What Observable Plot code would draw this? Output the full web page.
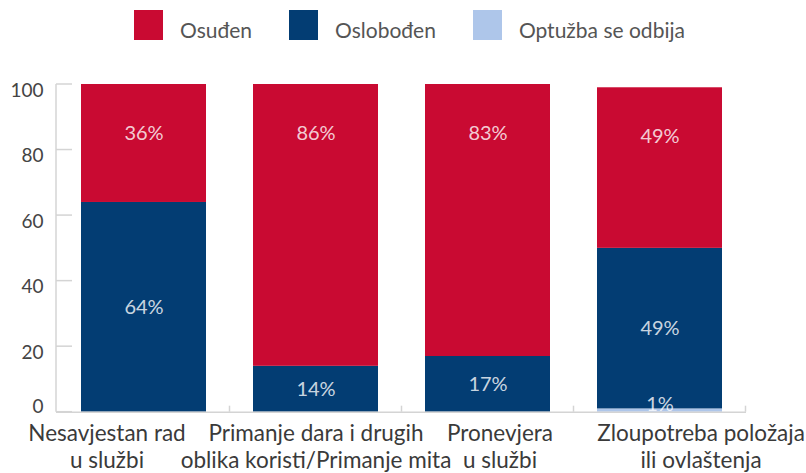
<!DOCTYPE html>
<html>
<head>
<meta charset="utf-8">
<script src="https://cdn.jsdelivr.net/npm/d3@7"></script>
<script src="https://cdn.jsdelivr.net/npm/@observablehq/plot@0.6"></script>
<style>
  body { margin: 0; background: #fff; font-family: Lato, sans-serif; }
  #legend { height: 62px; width: 806px; display: flex; align-items: flex-start; padding-left: 134px; box-sizing: border-box; }
  .item { display: flex; align-items: flex-start; margin-top: 10px; margin-right: 37px; }
  .sw { width: 29px; height: 30px; }
  .lab { font-size: 21px; color: #555; margin-left: 17px; line-height: 30px; height: 30px; margin-top: 5px; white-space: nowrap; }
  #chart svg { display: block; }
</style>
</head>
<body>
<div id="legend"></div>
<div id="chart"></div>
<script>
// ---- data ----
const categories = [
  "Nesavjestan rad\nu službi",
  "Primanje dara i drugih\noblika koristi/Primanje mita",
  "Pronevjera\nu službi",
  "Zloupotreba položaja\nili ovlaštenja"
];
const seriesNames = ["Osuđen", "Oslobođen", "Optužba se odbija"]; // legend order
const stackOrder = ["Optužba se odbija", "Oslobođen", "Osuđen"]; // bottom to top
const osudjen = [36, 86, 83, 49];
const oslobodjen = [64, 14, 17, 49];
const odbija = [0, 0, 0, 1];
const seriesColors = ["#c90a32", "#033d73", "#aec6ea"];
const yTicks = [0, 20, 40, 60, 80, 100];

// layout: horizontal shift (px) of each category label, as in the reference
const labelShift = [-37, 0, 12, 41];

// ---- build table ----
const valuesBySeries = { "Osuđen": osudjen, "Oslobođen": oslobodjen, "Optužba se odbija": odbija };
const rows = [];
categories.forEach((c, i) => {
  let base = 0;
  stackOrder.forEach(s => {
    const v = valuesBySeries[s][i];
    if (v > 0) rows.push({ category: c, series: s, value: v, y1: base, y2: base + v });
    base += v;
  });
});
const labelRows = rows.map(r => ({
  ...r,
  ly: r.series === "Osuđen" ? r.y2 - 15 : r.series === "Oslobođen" ? (r.y1 + r.y2) / 2 : r.y1
}));

// ---- legend ----
const legend = d3.select("#legend");
seriesNames.forEach((s, i) => {
  const it = legend.append("div").attr("class", "item");
  it.append("div").attr("class", "sw").style("background", seriesColors[i]);
  it.append("div").attr("class", "lab").text(s);
});

// ---- chart ----
const catLabelMarks = categories.map((c, i) =>
  Plot.text([c], {
    x: d => d, y: () => 0, text: d => d, dx: labelShift[i], dy: 9,
    lineAnchor: "top", lineHeight: 1.22, fontSize: 22.5, fill: "#3a3a3a"
  })
);

const plot = Plot.plot({
  width: 806,
  height: 411,
  marginTop: 22,
  marginBottom: 61.3,
  marginLeft: 56,
  marginRight: 60,
  style: { fontFamily: "Lato, sans-serif", background: "#fff", overflow: "visible" },
  x: { domain: categories, paddingInner: 0.275, paddingOuter: 0.1375, label: null, axis: null },
  y: { domain: [0, 100], label: null },
  color: { domain: seriesNames, range: seriesColors },
  marks: [
    Plot.barY(rows, { x: "category", y1: "y1", y2: "y2", fill: "series" }),
    Plot.ruleY([0], { stroke: "#d4d4d4", strokeWidth: 1.5 }),
    Plot.text(labelRows.filter(d => d.series !== "Optužba se odbija"), {
      x: "category", y: "ly", text: d => d.value + "%",
      fill: "white", fillOpacity: 0.8, fontSize: 20
    }),
    Plot.text(labelRows.filter(d => d.series === "Optužba se odbija"), {
      x: "category", y: "ly", text: d => d.value + "%", dy: -8,
      fill: "white", fillOpacity: 0.8, fontSize: 20
    }),
    Plot.axisY({ ticks: yTicks.filter(t => t > 0), tickSize: 0, tickPadding: 13, dy: 6, fontSize: 19, fill: "#444", label: null }),
    Plot.axisY({ ticks: yTicks.filter(t => t === 0), tickSize: 0, tickPadding: 13, dy: -5, fontSize: 19, fill: "#444", label: null }),
    ...catLabelMarks
  ]
});
document.getElementById("chart").appendChild(plot);

// ---- axis line, inward y ticks and band-boundary ticks, positioned from Plot's scales ----
const ys = plot.scale("y");
const fy = ys.apply ? (v => ys.apply(v)) : d3.scaleLinear(ys.domain, ys.range);
const xs = plot.scale("x");
const fx = xs.apply ? (v => xs.apply(v)) : d3.scaleBand(xs.domain, xs.range).paddingInner(0.275).paddingOuter(0.1375);
const bw = xs.bandwidth;
const step = fx(categories[1]) - fx(categories[0]);
const gap = step - bw;
const x0 = 56;
const svg = d3.select(plot);
const g = svg.append("g").attr("stroke", "#d4d4d4").attr("stroke-width", 1.5);
g.append("line").attr("x1", x0).attr("x2", x0).attr("y1", fy(100)).attr("y2", fy(0));
yTicks.forEach(t => {
  g.append("line").attr("x1", x0).attr("x2", x0 + 16).attr("y1", fy(t)).attr("y2", fy(t));
});
categories.forEach(c => {
  const b = fx(c) + bw + gap / 2;
  g.append("line").attr("x1", b).attr("x2", b).attr("y1", fy(0)).attr("y2", fy(0) - 6);
});
</script>
</body>
</html>
